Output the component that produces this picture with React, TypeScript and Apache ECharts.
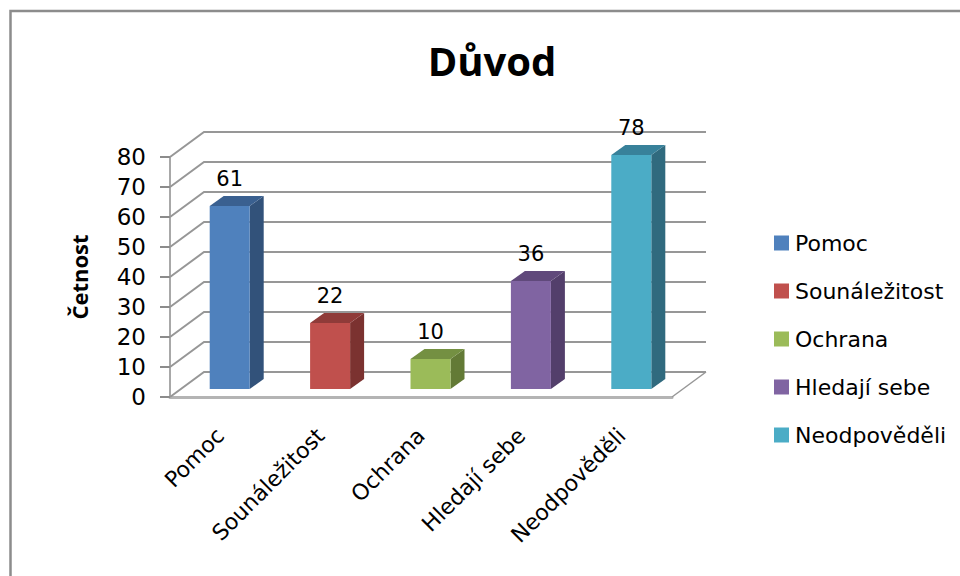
import React, { useEffect, useRef } from "react";
import * as echarts from "echarts";

const titleText = "Důvod";
const yAxisName = "Četnost";
const categories = ["Pomoc", "Sounáležitost", "Ochrana", "Hledají sebe", "Neodpověděli"];
const values = [61, 22, 10, 36, 78];
const gridValues = [0, 10, 20, 30, 40, 50, 60, 70, 80];
const faceColors = ["#4f81bd", "#c0504d", "#9bbb59", "#8064a2", "#4bacc6"];
const sideColors = ["#32527a", "#7b3230", "#637a36", "#533f6b", "#306a7e"];
const topColors = ["#3a6090", "#8f3b39", "#749042", "#60497b", "#38819a"];

const FONT = "'DejaVu Sans', sans-serif";
const BOLD_FONT = "'Open Sans', 'Noto Sans', sans-serif";
const WALL_DX = 34;
const WALL_DY = -25;
const BAR_DX = 9.5;
const BAR_DY = -8;
const BAR_HALF = 20;
const SIDE_DX = 14;
const SIDE_DY = -10;
const GRID_COLOR = "#979797";

function renderWall(params: any, api: any) {
  const cs = params.coordSys;
  const v = api.value(1);
  const [, y] = api.coord([0, v]);
  const left = cs.x;
  const right = cs.x + cs.width;
  const children: any[] = [
    {
      type: "polyline",
      shape: {
        points: [
          [left, y],
          [left + WALL_DX, y + WALL_DY],
          [right + WALL_DX, y + WALL_DY],
        ],
      },
      style: { stroke: GRID_COLOR, lineWidth: 2, fill: "none" },
    },
  ];
  if (v === 0) {
    children.push({
      type: "line",
      shape: { x1: right, y1: y, x2: right + WALL_DX, y2: y + WALL_DY },
      style: { stroke: GRID_COLOR, lineWidth: 1.5 },
    });
  }
  return { type: "group", children };
}

function makeBarRenderer(index: number) {
  return (_params: any, api: any) => {
    const [cx, yTop] = api.coord([api.value(0), api.value(1)]);
    const [, yBase] = api.coord([api.value(0), 0]);
    const x0 = cx + BAR_DX - BAR_HALF;
    const x1 = cx + BAR_DX + BAR_HALF;
    const t = yTop + BAR_DY;
    const b = yBase + BAR_DY;
    return {
      type: "group",
      children: [
        {
          type: "polygon",
          shape: { points: [[x1, t], [x1 + SIDE_DX, t + SIDE_DY], [x1 + SIDE_DX, b + SIDE_DY], [x1, b]] },
          style: { fill: sideColors[index] },
        },
        {
          type: "polygon",
          shape: { points: [[x0, t], [x0 + SIDE_DX, t + SIDE_DY], [x1 + SIDE_DX, t + SIDE_DY], [x1, t]] },
          style: { fill: topColors[index] },
        },
        {
          type: "rect",
          shape: { x: x0, y: t, width: x1 - x0, height: b - t },
          style: { fill: faceColors[index] },
        },
        {
          type: "text",
          style: {
            x: cx + BAR_DX,
            y: t - 27,
            text: String(api.value(1)),
            fill: "#000",
            font: `21px ${FONT}`,
            align: "center",
            verticalAlign: "middle",
          },
        },
      ],
    };
  };
}

export default function App() {
  const ref = useRef<HTMLDivElement>(null);
  useEffect(() => {
    const chart = echarts.init(ref.current!, undefined, { renderer: "svg" });
    chart.setOption({
      animation: false,
      backgroundColor: "#ffffff",
      title: {
        text: titleText,
        left: 487,
        top: 35,
        textAlign: "center",
        textStyle: { fontFamily: BOLD_FONT, fontSize: 40, fontWeight: "bold", color: "#000" },
      },
      legend: {
        orient: "vertical",
        left: 774,
        top: 232,
        padding: 0,
        icon: "rect",
        itemWidth: 15,
        itemHeight: 15,
        itemGap: 26,
        data: categories,
        textStyle: { fontFamily: FONT, fontSize: 22, color: "#000", padding: [0, 0, 0, 1] },
      },
      grid: { left: 170, top: 157, width: 502, height: 240, containLabel: false },
      xAxis: {
        type: "category",
        data: categories,
        axisLine: { show: true, lineStyle: { color: "#b4b4b4", width: 3 } },
        axisTick: { show: false },
        axisLabel: {
          interval: 0,
          rotate: 45,
          margin: 35,
          fontFamily: FONT,
          fontSize: 22,
          color: "#000",
        },
      },
      yAxis: {
        type: "value",
        min: 0,
        max: 80,
        interval: 10,
        name: yAxisName,
        nameLocation: "middle",
        nameRotate: 90,
        nameGap: 80,
        nameTextStyle: { fontFamily: BOLD_FONT, fontSize: 22, fontWeight: "bold", color: "#000" },
        axisLine: { show: true, lineStyle: { color: "#a8a8a8", width: 2 } },
        axisTick: { show: true, length: 10, lineStyle: { color: "#8c8c8c", width: 2 } },
        axisLabel: { margin: 24, fontFamily: FONT, fontSize: 23, color: "#000" },
        splitLine: { show: false },
      },
      graphic: [
        {
          type: "polyline",
          shape: { points: [[10.5, 576], [10.5, 11], [960, 11]] },
          style: { stroke: "#8c8c8c", lineWidth: 2.5, fill: "none" },
          silent: true,
        },
      ],
      series: [
        {
          type: "custom",
          name: "Mřížka",
          z: 1,
          silent: true,
          renderItem: renderWall,
          encode: { x: 0, y: 1 },
          data: gridValues.map((v) => [0, v]),
        },
        ...categories.map((name, i) => ({
          type: "custom",
          name,
          z: 3,
          renderItem: makeBarRenderer(i),
          encode: { x: 0, y: 1 },
          itemStyle: { color: faceColors[i] },
          data: [[i, values[i]]],
        })),
      ],
    });
    return () => chart.dispose();
  }, []);
  return (
    <div
      ref={ref}
      style={{ position: "fixed", left: 0, top: 0, width: 960, height: 576 }}
    />
  );
}
